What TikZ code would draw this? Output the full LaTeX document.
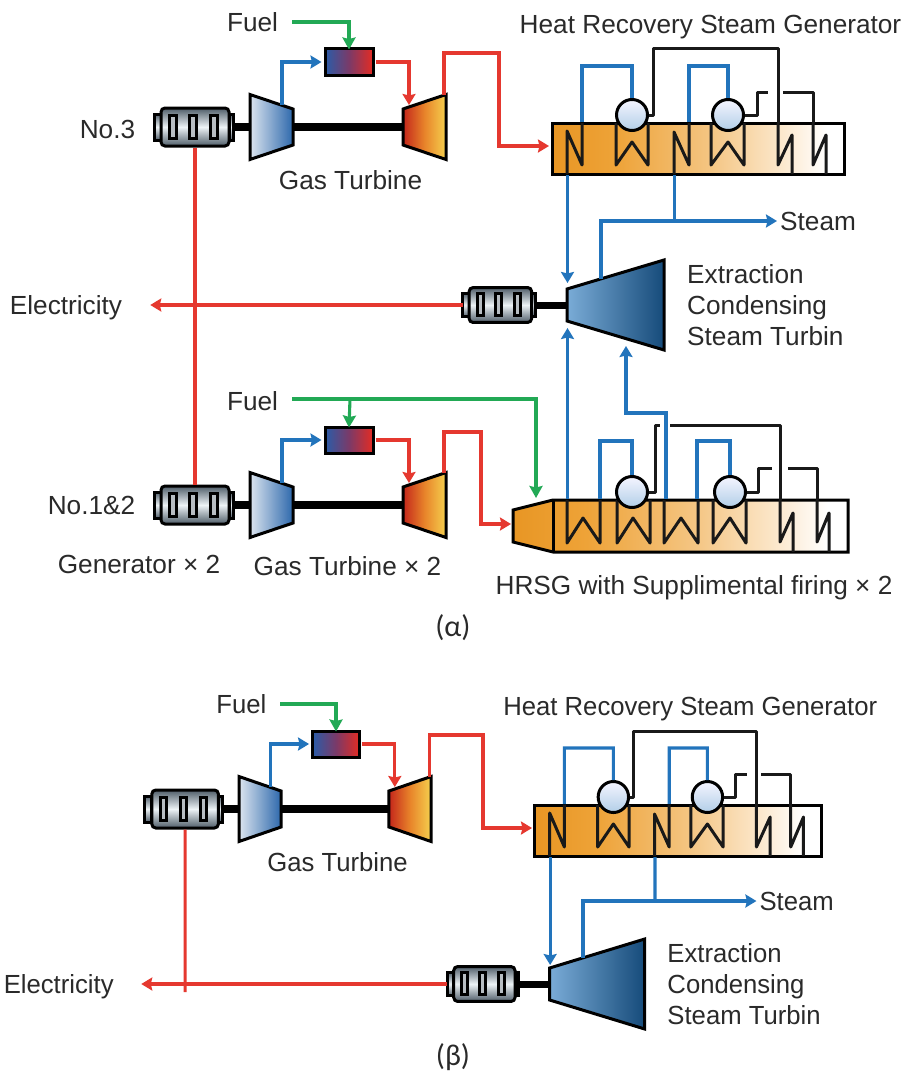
\documentclass[tikz,border=0pt]{standalone}
\usepackage{fontspec}
\setmainfont{Liberation Sans}
\newfontfamily\capfont{Carlito}
\usetikzlibrary{arrows.meta}

\definecolor{gasgreen}{HTML}{22A955}
\definecolor{airblue}{HTML}{2274BC}
\definecolor{hotred}{HTML}{E5382F}
\definecolor{inktext}{HTML}{2A2A2A}
\definecolor{gendark}{HTML}{4E5C68}
\definecolor{genpale}{HTML}{EDF3F6}
\definecolor{fadeA}{HTML}{E89624}
\definecolor{fadeB}{HTML}{EEA338}
\definecolor{fadeC}{HTML}{F4C582}
\definecolor{fadeD}{HTML}{FBE4C4}
\definecolor{burnA}{HTML}{2A5CA8}
\definecolor{burnB}{HTML}{7B3A68}
\definecolor{burnC}{HTML}{E52B22}
\definecolor{turbA}{HTML}{C4261B}
\definecolor{turbB}{HTML}{E8842A}
\definecolor{turbC}{HTML}{F5D04E}
\definecolor{compA}{HTML}{DCE5EF}
\definecolor{compB}{HTML}{2D68AC}
\pgfdeclarehorizontalshading{boilerfade}{100bp}{
  color(0bp)=(fadeA);
  color(25bp)=(fadeA);
  color(36bp)=(fadeB);
  color(52bp)=(fadeC);
  color(63bp)=(fadeD);
  color(72bp)=(white);
  color(100bp)=(white)}

\tikzset{
  lbl/.style={text=inktext, font=\fontsize{26.2}{31}\selectfont, inner sep=0pt},
  unitline/.style={draw=black, line width=3pt, line join=miter},
  coil/.style={draw=black!90, line width=3pt, line join=round},
  shaft/.style={draw=black, line width=8.5pt},
  gasline/.style={draw=gasgreen, line width=3.1pt, -{Stealth[length=12pt,width=13pt,inset=1.5pt]}},
  steamline/.style={draw=airblue, line width=3.1pt, -{Stealth[length=11pt,width=13pt,inset=1.5pt]}},
  hotline/.style={draw=hotred, line width=3.1pt, -{Stealth[length=11pt,width=13pt,inset=1.5pt]}},
  wire/.style={draw=hotred, line width=3.1pt},
  burnerbody/.style={rectangle, unitline, minimum width=48pt, minimum height=26pt, inner sep=0pt,
    left color=burnA, right color=burnC, middle color=burnB},
  genbody/.style={rectangle, unitline, rounded corners=4pt, minimum width=68pt, minimum height=38pt,
    inner sep=0pt, top color=gendark, bottom color=gendark, middle color=genpale},
  drumbody/.style={circle, unitline, minimum size=31pt, inner sep=0pt,
    top color=blue!4!white, bottom color=airblue!35!white},
  pics/generator/.style={code={
    \draw[unitline, top color=gendark, bottom color=gendark, middle color=genpale]
      (-39.5,-13) rectangle (-32.5,13);
    \draw[unitline, top color=gendark, bottom color=gendark, middle color=genpale]
      (35.5,-13) rectangle (39.5,13);
    \node[genbody] (-body) at (1.5,0) {};
    \foreach \wx in {-20.5,-0.5,20.5}
      \draw[unitline, fill=gendark!40!white] (\wx-3.2,-12) rectangle (\wx+3.2,11);
    \coordinate (-front) at (-39.5,0);
    \coordinate (-rear) at (39.5,0);
  }},
  pics/compwedge/.style={code={
    \draw[unitline, left color=compA, right color=compB]
      (-21.5,-32.5) -- (21.5,-18) -- (21.5,18) -- (-21.5,32.5) -- cycle;
    \coordinate (-west) at (-21.5,0);
    \coordinate (-east) at (21.5,0);
    \coordinate (-port) at (10.5,-22);
  }},
  pics/turbwedge/.style={code={
    \draw[unitline, left color=turbA, right color=turbC, middle color=turbB]
      (-21.5,-18) -- (21.5,-32.5) -- (21.5,32.5) -- (-21.5,18) -- cycle;
    \coordinate (-west) at (-21.5,0);
    \coordinate (-port) at (-15.5,-22);
    \coordinate (-exhaust) at (19.5,-32);
  }},
  pics/steamwedge/.style={code={
    \draw[unitline, left color=airblue!60!white, right color=airblue!65!black]
      (-48.5,-16) -- (48.5,-45) -- (48.5,45) -- (-48.5,16) -- cycle;
    \coordinate (-west) at (-48.5,0);
    \coordinate (-bleed) at (-14.5,-26);
  }},
  % generator, compressor, burner and turbine on one shaft
  pics/gasset/.style={code={
    \pic (-gen) at (193.5,127) {generator};
    \pic (-comp) at (271.5,127) {compwedge};
    \pic (-turb) at (424.5,127) {turbwedge};
    \node[burnerbody] (-burner) at (349,62) {};
    \draw[shaft] (-gen-rear) -- (-comp-west);
    \draw[shaft] (-comp-east) -- (-turb-west);
    \draw[steamline] (-comp-port) |- ([xshift=-2pt]-burner.west);
    \draw[hotline] ([xshift=1pt]-burner.east) -| (-turb-port);
  }},
  % plain boiler, three coils and two drums
  pics/boiler/.style={code={
    \node[rectangle, unitline, shading=boilerfade, minimum width=292pt, minimum height=51pt, inner sep=0pt]
      (-box) at (698,148.5) {};
    \draw[coil] (567,174) -- (567,131) -- (582,165) -- (582,123);
    \draw[coil] (616,123) -- (616,165) -- (632,142) -- (648,165) -- (648,123);
    \draw[coil] (674,174) -- (674,132) -- (689,165) -- (689,123);
    \draw[coil] (711,123) -- (711,165) -- (728,142) -- (744,165) -- (744,123);
    \draw[coil] (778,123) -- (778,165) -- (792,135) -- (792,174);
    \draw[coil] (813,123) -- (813,165) -- (826,135) -- (826,174);
    \node[drumbody] (-drum1) at (632,115) {};
    \node[drumbody] (-drum2) at (728,115) {};
    \coordinate (-out1) at (567.5,175);
    \coordinate (-out2) at (674.5,175);
    \draw[steamline, -] (582,122) |- (632,66) -- (-drum1.north);
    \draw[steamline, -] (689,122) |- (728,66) -- (-drum2.north);
    \draw[coil] (-drum1.east) -| (653,49) -| (778,123);
    \draw[coil] (-drum2.east) -| (757,92) -- (768,92);
    \draw[coil] (783,92) -| (813,123);
  }},
  % the part that alpha (upper unit) and beta have in common
  pics/plant/.style={code={
    \pic (-gt) at (0,0) {gasset};
    \pic (-hr) at (0,0) {boiler};
    \node[lbl] (-fuel) at (252.5,22) {Fuel};
    \node[lbl] at (350.5,180) {Gas Turbine};
    \node[lbl] at (710.5,27) {Heat Recovery Steam Generator};
    \draw[gasline] ([xshift=14pt]-fuel.east) -| ([yshift=-2pt]-gt-burner.north);
    \coordinate (-duct) at (499,53);
    \coordinate (-inlet) at (549,146);
    \draw[hotline] (-gt-turb-exhaust) |- (-duct) |- (-inlet);
  }},
  % steam turbine with its generator and label
  pics/steamset/.style={code={
    \pic[scale=.92, transform shape] (-gen) at (499,305) {generator};
    \pic (-st) at (615.5,305) {steamwedge};
    \draw[shaft, line width=7pt] (-gen-rear) -- (-st-west);
    \node[lbl, anchor=west, align=left] at (687,305.5) {Extraction\\Condensing\\Steam Turbin};
  }},
}

\begin{document}
\begin{tikzpicture}[x=1pt, y=-1pt]
  \useasboundingbox[fill=white] (0,0) rectangle (906,1073);

  % (alpha)
  \pic (top) at (0,0) {plant};
  \pic (low) at (0,378) {gasset};
  \pic (mid) at (0,0) {steamset};

  \node[lbl] (no3) at (107.5,129) {No.3};
  \node[lbl] (no12) at (91.5,505) {No.1\&2};
  \node[lbl] (elec) at (66,308) {Electricity};
  \node[lbl] at (139,564) {Generator × 2};
  \node[lbl] at (347.5,566) {Gas Turbine × 2};
  \node[lbl] at (694,588) {HRSG with Supplimental firing × 2};
  \node[lbl] (fuel12) at (252.5,401) {Fuel};
  \node[lbl, anchor=west] (steam1) at (780,221) {Steam};
  \node[font=\capfont\fontsize{30}{36}\selectfont, text=inktext, inner sep=0pt] at (453,628) {(α)};

  % fired boiler
  \draw[unitline, shading=boilerfade] (513,510) -- (553,500) -- (848,500) -- (848,552)
    -- (553,552) -- (513,542) -- cycle;
  \draw[unitline] (553,500) -- (553,552);
  \draw[coil] (567,500) -- (567,543) -- (583,518) -- (600,543) -- (600,500);
  \draw[coil] (617,500) -- (617,543) -- (633,518) -- (650,543) -- (650,500);
  \draw[coil] (664,500) -- (664,543) -- (681,518) -- (698,543) -- (698,500);
  \draw[coil] (713,500) -- (713,543) -- (730,518) -- (746,543) -- (746,500);
  \draw[coil] (780,500) -- (780,542) -- (793,513) -- (793,552);
  \draw[coil] (817,500) -- (817,542) -- (829,513) -- (829,552);
  \node[drumbody] (fb-drum1) at (632,492) {};
  \node[drumbody] (fb-drum2) at (730,492) {};
  \draw[steamline, -] (600,499) |- (632,441) -- (fb-drum1.north);
  \draw[steamline, -] (697,499) |- (730,441) -- (fb-drum2.north);
  \draw[coil] (fb-drum1.east) -| (655,425) -- (660,425);
  \draw[coil] (670,425) -| (780,500);
  \draw[coil] (fb-drum2.east) -| (758,468) -- (772,468);
  \draw[coil] (788,468) -| (817,500);

  % links
  \coordinate (mid-top) at (567.5,283);
  \coordinate (mid-low) at (567.5,328);
  \coordinate (mid-bend) at (626,413);
  \coordinate (mid-tap) at (626,346);
  \coordinate (split1) at (top-hr-out2 |- steam1.west);
  \coordinate (low-duct) at (481,432);
  \coordinate (low-inlet) at (511,524);
  \coordinate (fuel-main) at (350,399);
  \draw[wire] (top-gt-gen-body.south) -- (low-gen-body.north);
  \draw[hotline] (mid-gen-front) -- ([xshift=28pt]elec.east |- mid-gen-front);
  \draw[hotline] (low-turb-exhaust) |- (low-duct) |- (low-inlet);
  \draw[steamline] (top-hr-out1) -- (mid-top);
  \draw[steamline] (567.5,499) -- (mid-low);
  \draw[steamline] (666,499) |- (mid-bend) -- (mid-tap);
  \draw[steamline, -] (top-hr-out2) -- (split1);
  \draw[steamline] (mid-st-bleed) |- (split1) -- ([xshift=-3pt]steam1.west);
  \draw[gasline, -] ([xshift=14pt]fuel12.east |- fuel-main) -- (fuel-main);
  \draw[gasline] (fuel-main) -- ([yshift=-2pt]low-burner.north);
  \draw[gasline] (fuel-main) -| (536,498);

  % (beta)
  \begin{scope}[shift={(-6,682)}, xscale=.98, transform shape]
    \pic (beta) at (0,0) {plant};
    \pic (bst) at (0,-3) {steamset};
    \node[lbl, anchor=west] (steam2) at (781,219) {Steam};
    \node[lbl] (elec2) at (66,305) {Electricity};
    \coordinate (split2) at (beta-hr-out2 |- steam2.west);
    \coordinate (bst-top) at (567.5,283);
    \coordinate (wire-end) at (beta-gt-gen-body.south |- elec2.east);
    \draw[wire] (beta-gt-gen-body.south) -- ([yshift=-5pt]wire-end);
    \draw[hotline] (bst-gen-front) -- ([xshift=28pt]elec2.east |- bst-gen-front);
    \draw[steamline] (beta-hr-out1) -- (bst-top);
    \draw[steamline, -] (beta-hr-out2) -- (split2);
    \draw[steamline] (bst-st-bleed) |- (split2) -- ([xshift=-3pt]steam2.west);
  \end{scope}
  \node[font=\capfont\fontsize{30}{36}\selectfont, text=inktext, inner sep=0pt] at (453,1057) {(β)};
\end{tikzpicture}
\end{document}
